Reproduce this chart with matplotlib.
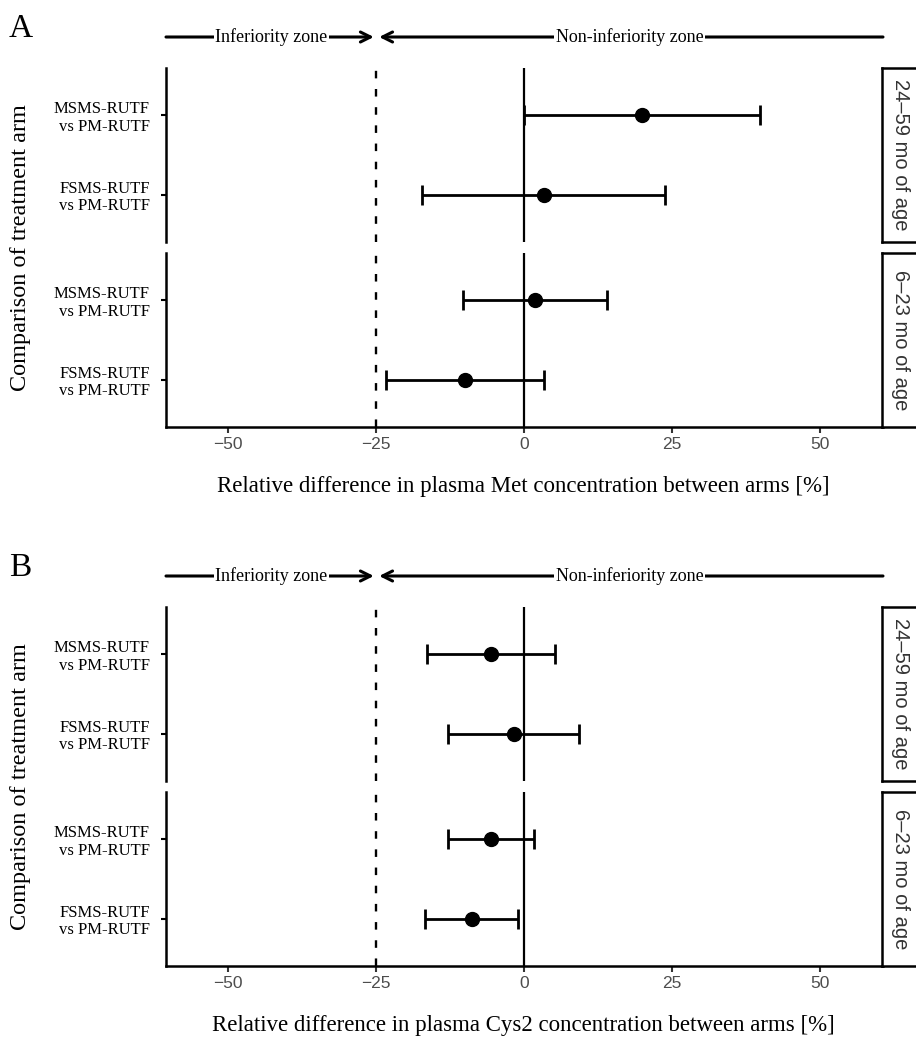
import matplotlib
matplotlib.use('Agg')
import matplotlib.pyplot as plt

# facets and rows
groups = ['24\u201359 mo of age', '6\u201323 mo of age']
comparisons = ['MSMS-RUTF\nvs PM-RUTF', 'FSMS-RUTF\nvs PM-RUTF']
x_ticks = [-50, -25, 0, 25, 50]

# panel A: Met (rows: [24-59 mo], [6-23 mo])
met_est = [[19.9, 3.3], [1.9, -10.0]]
met_lo = [[-0.1, -17.2], [-10.4, -23.4]]
met_hi = [[39.8, 23.7], [13.9, 3.4]]

# panel B: Cys2
cys_est = [[-5.6, -1.8], [-5.6, -8.9]]
cys_lo = [[-16.4, -12.8], [-12.9, -16.8]]
cys_hi = [[5.2, 9.3], [1.6, -1.1]]

margin = -25
xlim = (-60.5, 60.6)

W, H = 916, 1039
fig = plt.figure(figsize=(W / 100, H / 100), dpi=100)
serif = 'Liberation Serif'
sans = 'Liberation Sans'


def px_axes(x0, y0, x1, y1):
    return fig.add_axes([x0 / W, 1 - y1 / H, (x1 - x0) / W, (y1 - y0) / H])


def draw_panel(top, est, lo, hi, xlabel, letter):
    left, right = 166, 883
    fh, gap = 174, 11
    # letter
    fig.text(9 / W, 1 - (top - 39) / H, letter, fontsize=24, family=serif,
             ha='left', va='center')
    # zone arrows
    arr = px_axes(left, top - 41, right, top - 21)
    arr.set_xlim(*xlim)
    arr.set_ylim(0, 1)
    arr.axis('off')
    arr.annotate('', xy=(margin - 0.4, 0.5), xytext=(xlim[0], 0.5),
                 arrowprops=dict(arrowstyle='->', lw=2.2, color='black',
                                 shrinkA=0, shrinkB=0, mutation_scale=18))
    arr.annotate('', xy=(margin + 0.5, 0.5), xytext=(xlim[1], 0.5),
                 arrowprops=dict(arrowstyle='->', lw=2.2, color='black',
                                 shrinkA=0, shrinkB=0, mutation_scale=18))
    arr.text((xlim[0] + margin) / 2, 0.5, 'Inferiority zone', ha='center', va='center',
             fontsize=13, family=serif, bbox=dict(fc='white', ec='none', pad=1))
    arr.text((xlim[1] + margin) / 2, 0.5, 'Non-inferiority zone', ha='center', va='center',
             fontsize=13, family=serif, bbox=dict(fc='white', ec='none', pad=1))

    for i, g in enumerate(groups):
        y0 = top + i * (fh + gap)
        ax = px_axes(left, y0, right, y0 + fh)
        ax.axvline(0, color='black', lw=1.6, zorder=1)
        ax.axvline(margin, color='black', lw=1.7, ls=(0, (3.2, 4.5)), zorder=1)
        ys = list(range(len(comparisons)))
        e = est[i]
        xerr = [[e[k] - lo[i][k] for k in ys], [hi[i][k] - e[k] for k in ys]]
        ax.errorbar(e, ys, xerr=xerr, fmt='o', color='black', ms=10,
                    elinewidth=2, capsize=7, capthick=2, zorder=3)
        ax.set_xlim(*xlim)
        ax.set_ylim(len(comparisons) - 0.4, -0.6)
        ax.set_yticks(ys)
        ax.set_yticklabels(comparisons, fontsize=12, family=serif, ha='right',
                           multialignment='right', linespacing=1.15)
        for s in ['top', 'right']:
            ax.spines[s].set_visible(False)
        ax.spines['left'].set_linewidth(1.8)
        ax.tick_params(axis='y', length=3.6, width=1.5, pad=8)
        if i == len(groups) - 1:
            ax.spines['bottom'].set_linewidth(1.8)
            ax.set_xticks(x_ticks)
            ax.set_xticklabels([str(t).replace('-', '\u2212') for t in x_ticks],
                               fontsize=12.5, family=sans, color='#4D4D4D')
            ax.tick_params(axis='x', length=4, width=1.5, pad=3, color='#333333')
        else:
            ax.spines['bottom'].set_visible(False)
            ax.set_xticks([])
        # strip
        st = px_axes(882, y0, 928, y0 + fh)
        st.set_xticks([])
        st.set_yticks([])
        for s in st.spines.values():
            s.set_linewidth(1.8)
        st.text(0.4, 0.5, g, rotation=270, ha='center', va='center',
                fontsize=14.5, family=sans, color='#333333', transform=st.transAxes)

    bottom = top + 2 * fh + gap
    fig.text(21 / W, 1 - (top + bottom) / 2 / H, 'Comparison of treatment arm',
             rotation=90, ha='center', va='center', fontsize=17.5, family=serif)
    fig.text(523 / W, 1 - (bottom + 59) / H, xlabel, ha='center', va='center',
             fontsize=16.5, family=serif)


draw_panel(68, met_est, met_lo, met_hi,
           'Relative difference in plasma Met concentration between arms [%]', 'A')
draw_panel(607, cys_est, cys_lo, cys_hi,
           'Relative difference in plasma Cys2 concentration between arms [%]', 'B')

fig.savefig('out.png', dpi=100, facecolor='white')
